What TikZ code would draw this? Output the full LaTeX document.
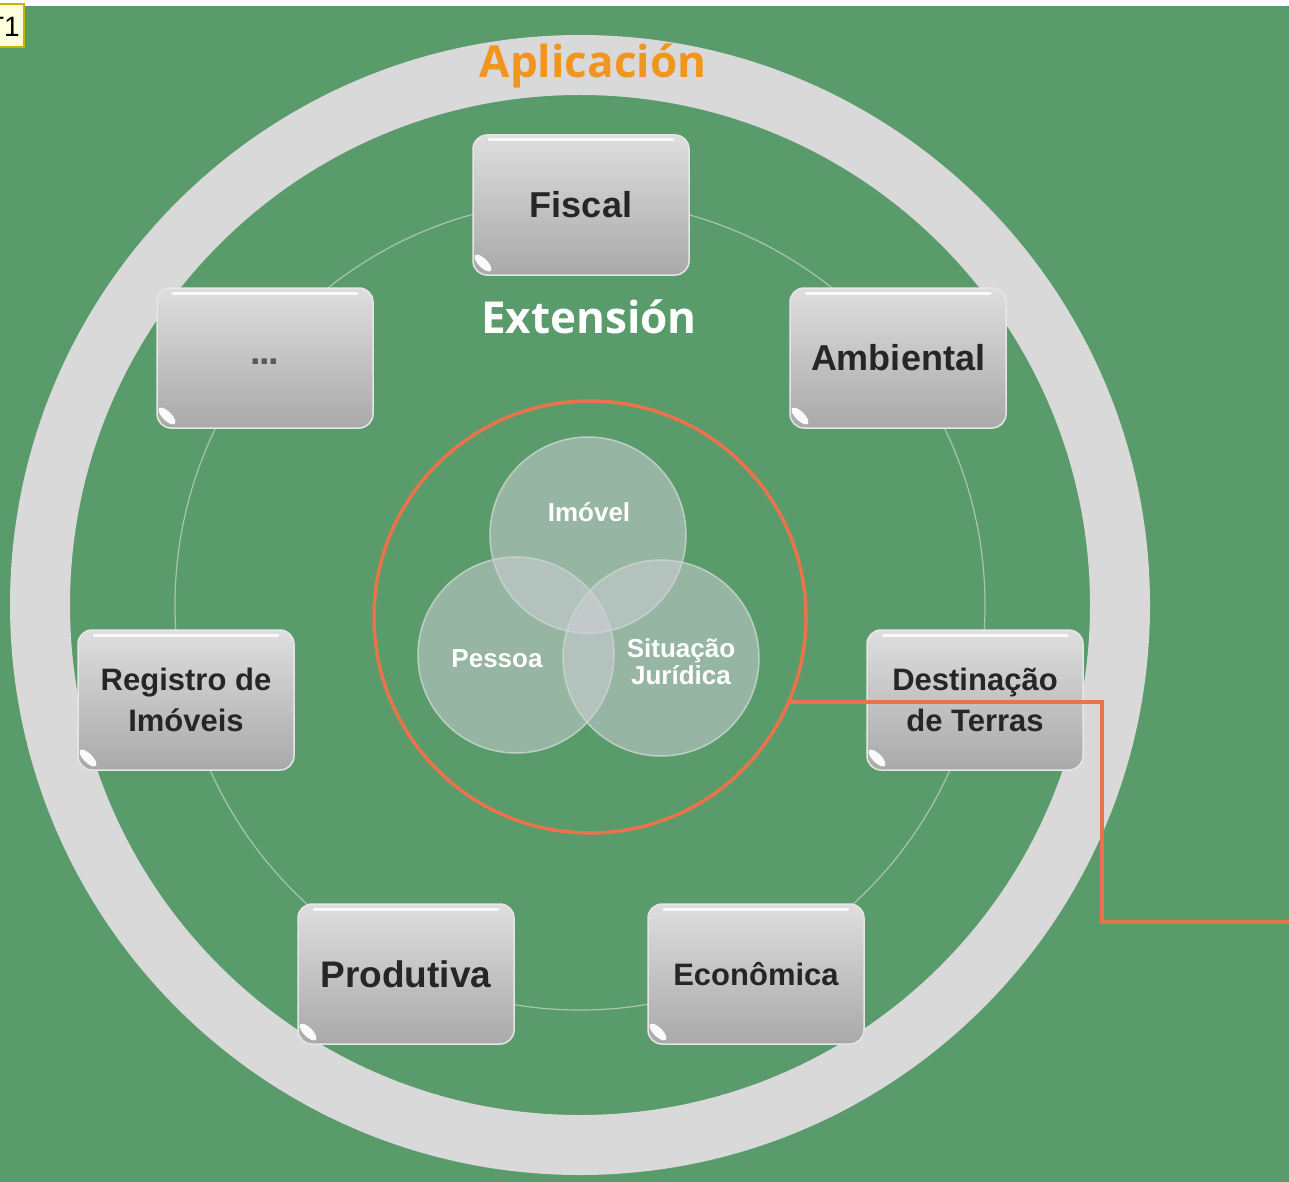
\documentclass[tikz,border=0pt]{standalone}
\usepackage{fontspec}
\setmainfont{Liberation Sans}
\newfontfamily\titlefont{Open Sans}
\definecolor{bggreen}{HTML}{5A9B6C}
\definecolor{ringgray}{HTML}{D9D9D9}
\definecolor{orng}{HTML}{E9734A}
\definecolor{aplic}{HTML}{F0961E}
\definecolor{boxtext}{HTML}{262626}
\definecolor{trackc}{HTML}{A9C4AE}
\definecolor{boxtop}{HTML}{DEDEDE}
\definecolor{boxbot}{HTML}{A9A9A9}
\definecolor{boxedge}{HTML}{E6E6E6}
\definecolor{bubblefill}{HTML}{D2D0D8}
\definecolor{bubbleedge}{HTML}{C8D6CC}
\definecolor{tfill}{HTML}{FFFFDD}
\definecolor{tedge}{HTML}{C8B400}
\begin{document}
\begin{tikzpicture}[x=1pt,y=-1pt,
  card/.style={rounded corners=14pt, minimum width=216pt, minimum height=140pt,
    top color=boxtop, bottom color=boxbot, draw=boxedge, line width=1.5pt,
    outer sep=0pt, inner sep=0pt, text=boxtext, align=center,
    font=\bfseries\fontsize{36}{41}\selectfont},
  smallcard/.style={card, font=\bfseries\fontsize{31}{41}\selectfont},
  bubble/.style={circle, minimum size=196pt, inner sep=0pt, fill=bubblefill,
    fill opacity=0.5, draw=bubbleedge, draw opacity=0.85, line width=1.5pt},
  blabel/.style={text=white, align=center, font=\bfseries\fontsize{26}{27}\selectfont},
  glint/.style={white, line width=3pt, line cap=round}
]
\useasboundingbox (0,0) rectangle (1289,1182);
\fill[white] (0,0) rectangle (1289,1182);
\fill[bggreen] (0,6) rectangle (1289,1182);

% T1 note
\node[draw=tedge, fill=tfill, line width=1.5pt, minimum width=26pt, minimum height=43pt,
  anchor=north west, inner sep=0pt, outer sep=0pt] (tnote) at (-2,4) {};
\node[anchor=east, inner sep=0pt, font=\fontsize{28}{28}\selectfont] (tlabel) at (20,27) {T1};

% big ring
\node[circle, draw=ringgray, line width=60pt, minimum size=1080pt, inner sep=0pt] (ring) at (580,605) {};
\node[text=aplic, font=\titlefont\bfseries\fontsize{44}{44}\selectfont] (aplicacion) at (593,66) {Aplicación};

% thin track circle
\node[circle, draw=trackc, line width=1.2pt, minimum size=810pt, inner sep=0pt] (track) at (580,605) {};

% boxes
\node[card] (fiscal) at (581,205) {Fiscal};
\node[card] (ambiental) at (898,358) {Ambiental};
\node[smallcard] (destinacao) at (975,700) {Destinação\\de Terras};
\node[smallcard] (economica) at (756,974) {Econômica};
\node[card, font=\bfseries\fontsize{37}{41}\selectfont] (produtiva) at (406,974) {Produtiva};
\node[smallcard] (registro) at (186,700) {Registro de\\Imóveis};
\node[card] (dots) at (265,358) {};
\node[text=black!65, inner sep=0pt, font=\bfseries\fontsize{38}{38}\selectfont] (ldots) at (265,362) {.\kern-1.5pt.\kern-1.5pt.};

\foreach \n in {fiscal,ambiental,destinacao,economica,produtiva,registro,dots}{
  \draw[glint, opacity=0.85] ([xshift=16pt,yshift=-5pt]\n.north west) -- ([xshift=-16pt,yshift=-5pt]\n.north east);
  \begin{scope}[shift={(\n.south west)}]
    \fill[white, opacity=0.95, rotate around={-45:(10,-12)}] (10,-12) ellipse [x radius=11pt, y radius=4.5pt];
  \end{scope}
}

\node[text=white, font=\titlefont\bfseries\fontsize{44}{44}\selectfont] (extension) at (589,317) {Extensión};

% orange circle
\node[circle, draw=orng, line width=3.5pt, minimum size=432pt, inner sep=0pt] (oc) at (590,617) {};

% bubbles
\node[bubble] (imovel) at (588,535) {};
\node[bubble] (pessoa) at (516,655) {};
\node[bubble] (situacao) at (661,658) {};
\node[blabel] (limovel) at (589,512) {Imóvel};
\node[blabel] (lpessoa) at (497,659) {Pessoa};
\node[blabel] (lsituacao) at (681,662) {Situação\\Jurídica};

% orange connector
\coordinate (cturn) at (1102,922);
\coordinate (cend) at (1292,922);
\draw[orng, line width=3.5pt] (oc.-23.5) -| (cturn) -- (cend);
\end{tikzpicture}
\end{document}
